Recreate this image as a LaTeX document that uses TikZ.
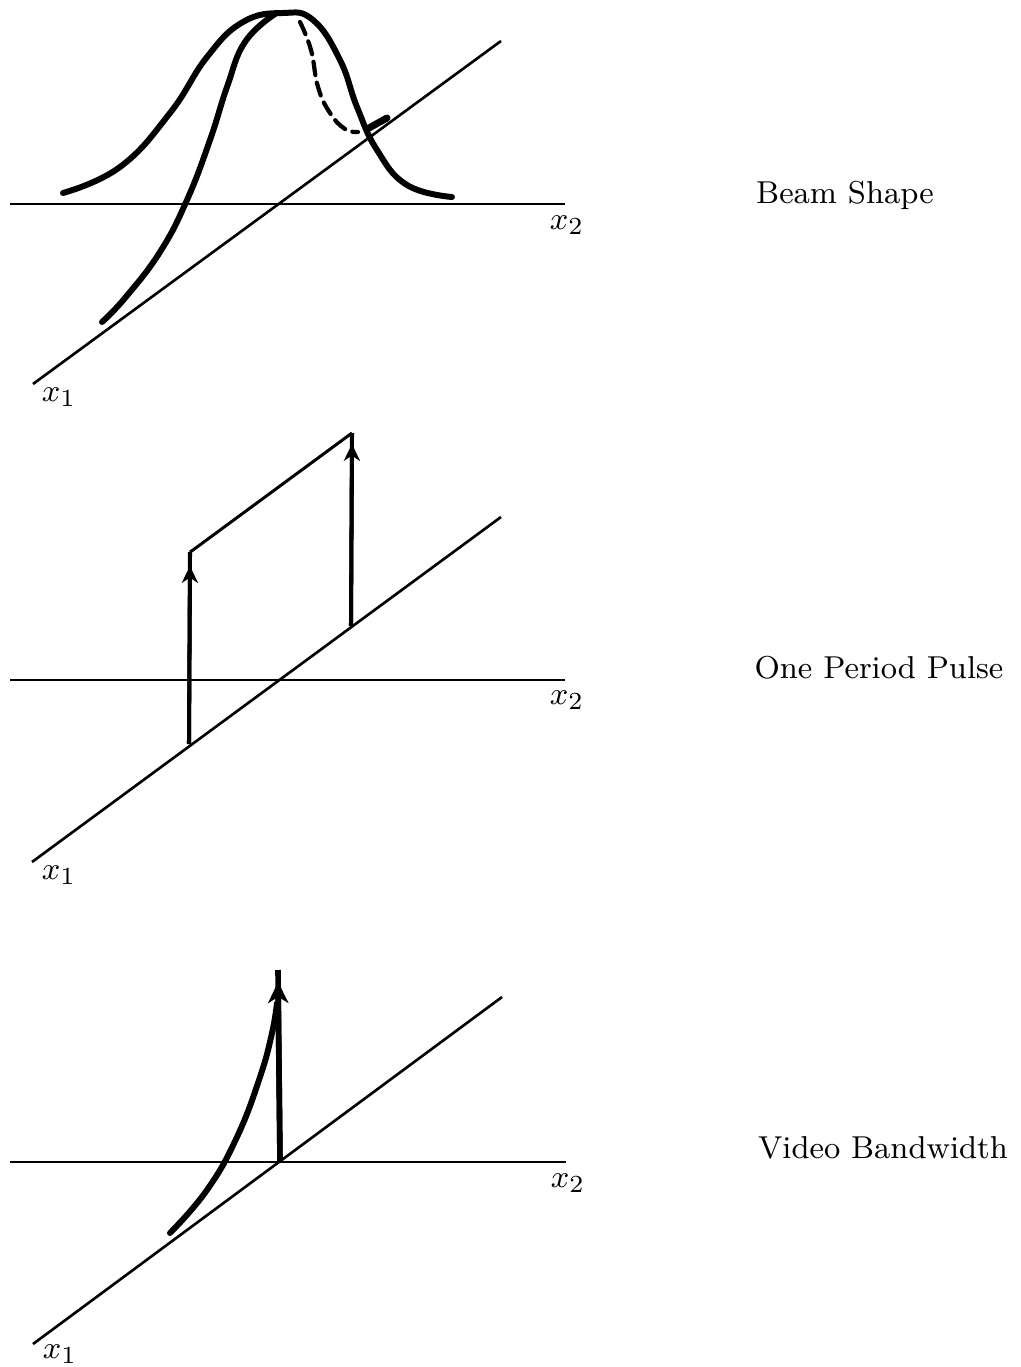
\documentclass[tikz,border=0pt]{standalone}
\usetikzlibrary{arrows.meta}
\begin{document}
\begin{tikzpicture}[x=0.01cm,y=-0.01cm,
  axis/.style={line width=0.75pt},
  curve/.style={line width=1.7pt, line cap=round, line join=round},
  pulse/.style={line width=1.15pt},
  arrtip/.style={-{Stealth[length=4.8pt,width=4.6pt,inset=1.5pt]}},
  bigtip/.style={-{Stealth[length=6pt,width=5.8pt,inset=1.8pt]}},
  lab/.style={font=\fontsize{9}{11}\selectfont, inner sep=0pt},
  axlab/.style={font=\fontsize{9.5}{11}\selectfont, inner sep=0pt}]
\useasboundingbox (0,0) rectangle (1020,1367);

% ---------- Panel 1: Beam Shape ----------
\coordinate (h1a) at (10,204);
\coordinate (h1b) at (565,204);
\coordinate (d1a) at (33,384);
\coordinate (d1b) at (501,41);
\draw[axis] (h1a) -- (h1b);
\draw[axis] (d1a) -- (d1b);
\node[axlab] (x2a) at (567,225) {$x_2$};
\node[axlab] (x1a) at (59,397) {$x_1$};
\node[lab] (beam) at (845,195) {Beam Shape};

\draw[curve] plot[smooth, tension=0.75] coordinates {
 (63,193) (120,167) (170,113) (207,57) (243,22) (283,13) (313,20)
 (340,60) (357,107) (377,150) (407,185) (452,197)};
\draw[curve] plot[smooth, tension=0.75] coordinates {
 (275,14) (245,42) (227,87) (210,140) (187,200) (160,252) (125,298) (102,322)};
\draw[line width=1.2pt, dash pattern=on 3.8pt off 2.2pt, line cap=round]
 plot[smooth, tension=0.75] coordinates {
 (300,22) (311,50) (318,87) (330,113) (345,129) (358,132)};
\coordinate (tb1) at (369,128);
\coordinate (tb2) at (387,118);
\draw[curve, line width=2pt] (tb1) -- (tb2);

% ---------- Panel 2: One Period Pulse ----------
\coordinate (h2a) at (10,680);
\coordinate (h2b) at (565,680);
\coordinate (d2a) at (32,862);
\coordinate (d2b) at (501,517);
\draw[axis] (h2a) -- (h2b);
\draw[axis] (d2a) -- (d2b);
\node[axlab] (x2b) at (567,700) {$x_2$};
\node[axlab] (x1b) at (59,875) {$x_1$};
\node[lab] (pulse) at (879,668) {One Period Pulse};

\coordinate (pl0) at (189,744);
\coordinate (pl1) at (190,566);
\coordinate (pl2) at (190,552);
\coordinate (pr0) at (351,626);
\coordinate (pr1) at (352,444);
\coordinate (pr2) at (352,433);
\draw[pulse] (pl0) -- (pl2);
\draw[pulse, arrtip] (pl0) -- (pl1);
\draw[pulse] (pr0) -- (pr2);
\draw[pulse, arrtip] (pr0) -- (pr1);
\draw[axis, line width=0.85pt] (pl2) -- (193,550) -- (pr2);

% ---------- Panel 3: Video Bandwidth ----------
\coordinate (h3a) at (10,1162);
\coordinate (h3b) at (566,1162);
\coordinate (d3a) at (33,1344);
\coordinate (d3b) at (502,997);
\draw[axis] (h3a) -- (h3b);
\draw[axis] (d3a) -- (d3b);
\node[axlab] (x2c) at (568,1183) {$x_2$};
\node[axlab] (x1c) at (60,1354) {$x_1$};
\node[lab] (video) at (883,1148) {Video Bandwidth};

\coordinate (v0) at (280,1161);
\coordinate (v1) at (278,982);
\coordinate (v2) at (278,970);
\draw[line width=1.6pt] (v0) -- (v2);
\draw[line width=1.6pt, bigtip] (v0) -- (v1);
\draw[curve] plot[smooth, tension=0.75] coordinates {
 (170,1233) (207,1190) (237,1137) (260,1077) (272,1033) (277,1003)};
\end{tikzpicture}
\end{document}
